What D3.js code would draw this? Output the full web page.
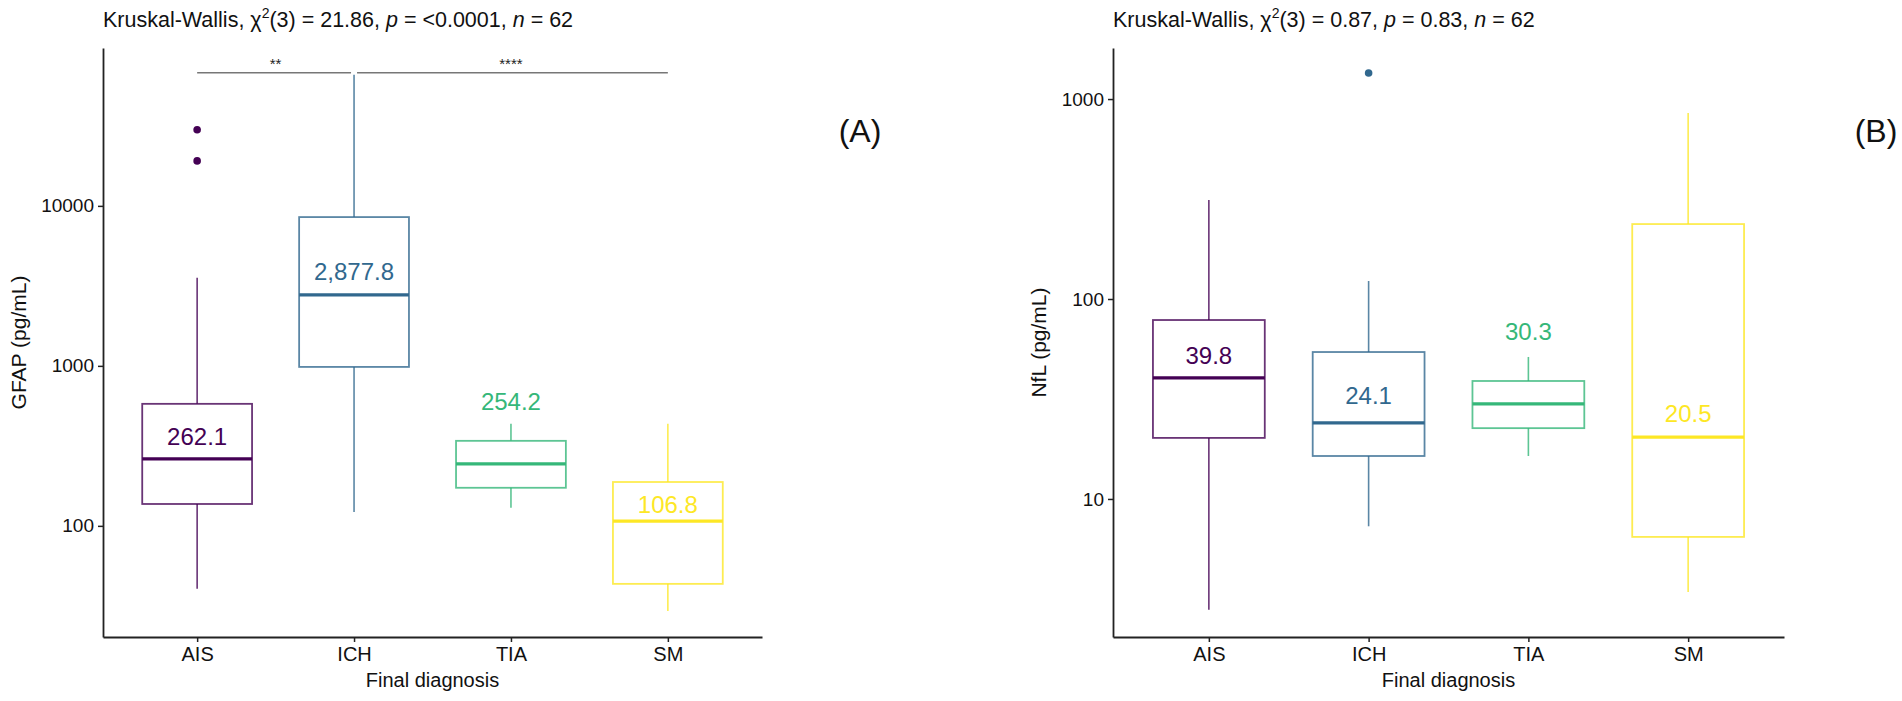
<!DOCTYPE html>
<html>
<head>
<meta charset="utf-8">
<script src="https://cdn.jsdelivr.net/npm/d3@7"></script>
<style>
  body { margin: 0; background: #fff; }
  svg text { font-family: "Liberation Sans", Arial, sans-serif; }
</style>
</head>
<body>
<div id="chart"></div>
<script>
const width = 1902;
const height = 701;

const categories = ["AIS", "ICH", "TIA", "SM"];
const colors = ["#440154", "#31688E", "#35B779", "#FDE725"];

// GFAP panel (A)
const gfapLower = [40.4, 122, 130, 29.4];
const gfapQ1 = [137, 985, 173, 43.4];
const gfapMedian = [262, 2780, 244, 107];
const gfapQ3 = [579, 8510, 340, 188];
const gfapUpper = [3550, 65900, 434, 434];
const gfapOutliers = [[29900, 19100], [], [], []];
const gfapLabels = ["262.1", "2,877.8", "254.2", "106.8"];
const gfapLabelAt = [365, 3870, 604, 137];
const gfapTicks = [100, 1000, 10000];
const gfapSig = [["AIS", "ICH", "**"], ["ICH", "SM", "****"]];
const gfapSigAt = 68000;

// NfL panel (B)
const nflLower = [2.79, 7.3, 16.4, 3.43];
const nflQ1 = [20.2, 16.4, 22.6, 6.46];
const nflMedian = [40.3, 24, 29.9, 20.4];
const nflQ3 = [78.5, 54.3, 38.9, 237];
const nflUpper = [313, 123, 51.3, 851];
const nflOutliers = [[], [1349], [], []];
const nflLabels = ["39.8", "24.1", "30.3", "20.5"];
const nflLabelAt = [52.5, 33.1, 68.5, 26.9];
const nflTicks = [10, 100, 1000];

const svg = d3.select("#chart")
  .append("svg")
  .attr("width", width)
  .attr("height", height);

function drawPanel(p) {
  const x = d3.scalePoint()
    .domain(categories)
    .range([p.left, p.right])
    .padding(0.6);

  const y = d3.scaleLog()
    .domain(p.domain)
    .range([637, 48]);

  const step = x.step();
  const boxW = step * 0.7;
  const g = svg.append("g");

  // axes
  g.append("g")
    .attr("transform", "translate(" + p.left + ",0)")
    .call(d3.axisLeft(y).tickValues(p.ticks).tickFormat(d3.format("d")).tickSize(5).tickSizeOuter(0).tickPadding(4))
    .call(a => a.select(".domain").attr("stroke", "#222").attr("stroke-width", 1.8))
    .call(a => a.selectAll(".tick line").attr("stroke", "#222").attr("stroke-width", 1.5))
    .call(a => a.selectAll(".tick text").attr("font-size", 19).attr("fill", "#111")
      .attr("font-family", "Liberation Sans, Arial, sans-serif"));

  g.append("g")
    .attr("transform", "translate(0,637)")
    .call(d3.axisBottom(x).tickSize(5).tickSizeOuter(0).tickPadding(5))
    .call(a => a.select(".domain").attr("stroke", "#222").attr("stroke-width", 1.8))
    .call(a => a.selectAll(".tick line").attr("stroke", "#222").attr("stroke-width", 1.5))
    .call(a => a.selectAll(".tick text").attr("font-size", 20).attr("fill", "#111")
      .attr("font-family", "Liberation Sans, Arial, sans-serif"));

  // axis titles
  g.append("text")
    .attr("x", (p.left + p.right) / 2)
    .attr("y", 687)
    .attr("text-anchor", "middle")
    .attr("font-size", 20)
    .attr("fill", "#111")
    .text("Final diagnosis");

  g.append("text")
    .attr("transform", "translate(" + p.yTitleX + "," + (637 + 48) / 2 + ") rotate(-90)")
    .attr("text-anchor", "middle")
    .attr("font-size", 21)
    .attr("fill", "#111")
    .text(p.yTitle);

  // title
  const t = g.append("text")
    .attr("x", p.left)
    .attr("y", 27)
    .attr("font-size", 21.5)
    .attr("fill", "#111");
  t.append("tspan").text("Kruskal-Wallis, \u03C7");
  t.append("tspan").attr("font-size", 14).attr("dy", -9).text("2");
  t.append("tspan").attr("dy", 9).text("(3) = " + p.stat + ", ");
  t.append("tspan").attr("font-style", "italic").text("p");
  t.append("tspan").text(" = " + p.pval + ", ");
  t.append("tspan").attr("font-style", "italic").text("n");
  t.append("tspan").text(" = 62");

  // boxes
  categories.forEach((c, i) => {
    const cx = x(c);
    const col = colors[i];
    const bg = g.append("g");

    bg.append("line")
      .attr("x1", cx).attr("x2", cx)
      .attr("y1", y(p.q3[i])).attr("y2", y(p.upper[i]))
      .attr("stroke", col).attr("stroke-opacity", 0.8).attr("stroke-width", 1.6);
    bg.append("line")
      .attr("x1", cx).attr("x2", cx)
      .attr("y1", y(p.q1[i])).attr("y2", y(p.lower[i]))
      .attr("stroke", col).attr("stroke-opacity", 0.8).attr("stroke-width", 1.6);

    bg.append("rect")
      .attr("x", cx - boxW / 2)
      .attr("width", boxW)
      .attr("y", y(p.q3[i]))
      .attr("height", y(p.q1[i]) - y(p.q3[i]))
      .attr("fill", "none")
      .attr("stroke", col).attr("stroke-opacity", 0.8).attr("stroke-width", 1.8);

    bg.append("line")
      .attr("x1", cx - boxW / 2).attr("x2", cx + boxW / 2)
      .attr("y1", y(p.median[i])).attr("y2", y(p.median[i]))
      .attr("stroke", col).attr("stroke-width", 3.2);

    bg.selectAll("circle")
      .data(p.outliers[i])
      .enter()
      .append("circle")
      .attr("cx", cx)
      .attr("cy", d => y(d))
      .attr("r", 3.8)
      .attr("fill", col);

    bg.append("text")
      .attr("x", cx)
      .attr("y", y(p.labelAt[i]))
      .attr("dy", "0.36em")
      .attr("text-anchor", "middle")
      .attr("font-size", 24)
      .attr("fill", col)
      .text(p.labels[i]);
  });

  // significance brackets
  (p.sig || []).forEach(s => {
    const x1 = x(s[0]) + (s[0] === "ICH" ? 3 : 0);
    const x2 = x(s[1]) - (s[1] === "ICH" ? 3 : 0);
    g.append("line")
      .attr("x1", x1).attr("x2", x2)
      .attr("y1", y(p.sigAt)).attr("y2", y(p.sigAt))
      .attr("stroke", "#777").attr("stroke-width", 1.5);
    g.append("text")
      .attr("x", (x(s[0]) + x(s[1])) / 2)
      .attr("y", y(p.sigAt) - 4)
      .attr("text-anchor", "middle")
      .attr("font-size", 15)
      .attr("fill", "#222")
      .text(s[2]);
  });

  // panel letter
  svg.append("text")
    .attr("x", p.letterX)
    .attr("y", 130)
    .attr("dy", "0.36em")
    .attr("text-anchor", "middle")
    .attr("font-size", 32)
    .attr("font-family", "Lato, 'Open Sans', sans-serif")
    .attr("fill", "#111")
    .text(p.letter);
}

drawPanel({
  left: 103, right: 762,
  domain: [20.2, 97000], ticks: gfapTicks,
  lower: gfapLower, q1: gfapQ1, median: gfapMedian, q3: gfapQ3, upper: gfapUpper,
  outliers: gfapOutliers, labels: gfapLabels, labelAt: gfapLabelAt,
  sig: gfapSig, sigAt: gfapSigAt,
  yTitle: "GFAP (pg/mL)", yTitleX: 26,
  stat: "21.86", pval: "<0.0001", letter: "(A)", letterX: 860
});

drawPanel({
  left: 1113, right: 1784,
  domain: [2.04, 1800], ticks: nflTicks,
  lower: nflLower, q1: nflQ1, median: nflMedian, q3: nflQ3, upper: nflUpper,
  outliers: nflOutliers, labels: nflLabels, labelAt: nflLabelAt,
  yTitle: "NfL (pg/mL)", yTitleX: 1046,
  stat: "0.87", pval: "0.83", letter: "(B)", letterX: 1876
});
</script>
</body>
</html>
